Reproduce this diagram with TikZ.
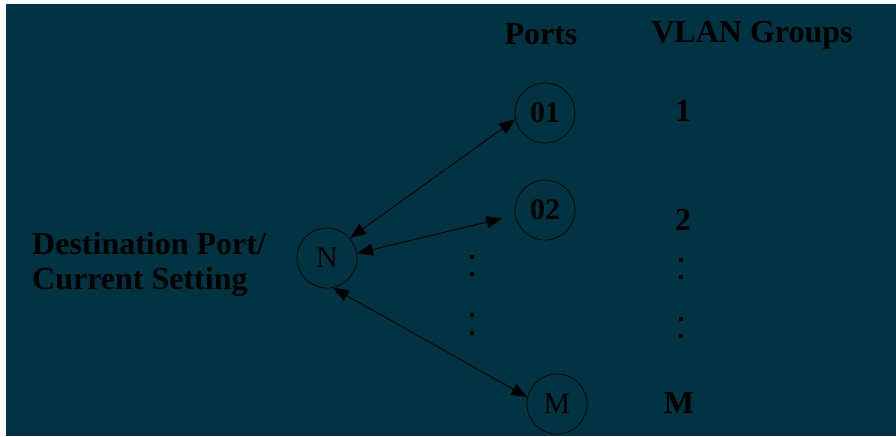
\documentclass[tikz,border=0pt]{standalone}
\usepackage{fontspec}
\setmainfont{Liberation Serif}
\usetikzlibrary{arrows.meta}
\definecolor{panel}{RGB}{2,51,66}
\tikzset{
  port/.style={circle, draw=black, line width=0.7pt, minimum size=60pt, inner sep=0pt,
    font=\fontsize{30}{32}\selectfont, text=black},
  head/.style={font=\fontsize{32}{35}\selectfont\bfseries, text=black, inner sep=0pt},
  link/.style={line width=0.9pt, draw=black, {Triangle[length=16pt,width=12pt]}-{Triangle[length=16pt,width=12pt]}},
  dotmark/.style={fill=black}
}
\begin{document}
\begin{tikzpicture}[x=1pt,y=-1pt]
  % page and panel
  \fill[white] (0,0) rectangle (896,436);
  \fill[panel] (6,4) rectangle (896,436);
  \useasboundingbox (0,0) rectangle (896,436);

  % column headings
  \node[head, anchor=base] (hports) at (541,45) {Ports};
  \node[head, anchor=base] (hvlan) at (752,43) {VLAN Groups};

  % left label
  \node[head, anchor=base west] (dst1) at (32,254) {Destination Port/};
  \node[head, anchor=base west] (dst2) at (32,289) {Current Setting};

  % port circles
  \node[port] (N) at (327,258) {N};
  \node[port, font=\fontsize{30}{32}\selectfont\bfseries] (p1) at (545,113) {01};
  \node[port, font=\fontsize{30}{32}\selectfont\bfseries] (p2) at (545,210) {02};
  \node[port] (pm) at (557,404) {M};

  % VLAN group numbers
  \node[head, anchor=base] (g1) at (683,121) {1};
  \node[head, anchor=base] (g2) at (683,230) {2};
  \node[head, anchor=base] (gm) at (679,413) {M};

  % continuation dots
  \foreach \yy in {257,274,315,333}
    \fill[dotmark] (470,\yy-2) rectangle (474,\yy+2);
  \foreach \yy in {260,277,319,336}
    \fill[dotmark] (679,\yy-2) rectangle (683,\yy+2);

  % links
  \draw[link] (N.41) -- (p1.192);
  \draw[link, shorten >=13pt] (N.9) -- (p2.190);
  \draw[link] (N.281) -- (pm.167);
\end{tikzpicture}
\end{document}
